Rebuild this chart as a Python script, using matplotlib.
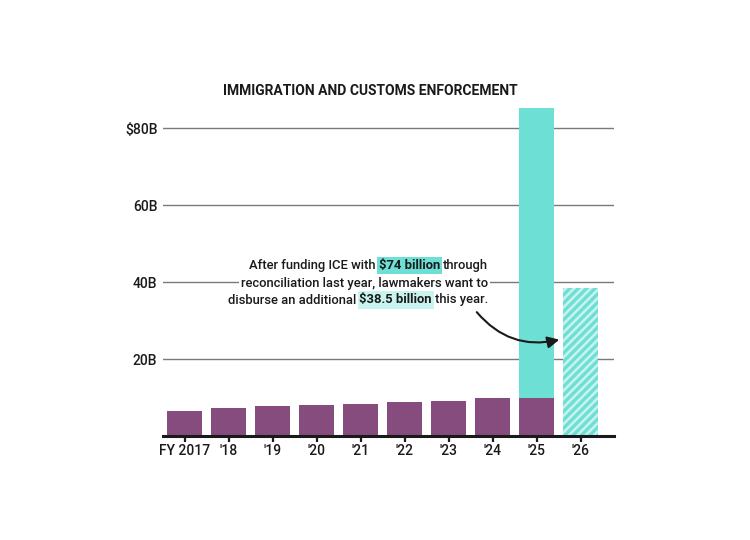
import matplotlib
matplotlib.use("Agg")
import matplotlib.pyplot as plt
from matplotlib.patches import FancyArrowPatch

# ---- data ----
years = ["FY 2017", "'18", "'19", "'20", "'21", "'22", "'23", "'24", "'25", "'26"]
base_budget = [6.5, 7.3, 7.8, 8.1, 8.3, 8.8, 9.1, 9.9, 9.9, 0]
reconciliation = [0, 0, 0, 0, 0, 0, 0, 0, 75.2, 0]
proposed = [0, 0, 0, 0, 0, 0, 0, 0, 0, 38.5]
yticks = [20, 40, 60, 80]
ytick_labels = ["20B", "40B", "60B", "$80B"]
title = "IMMIGRATION AND CUSTOMS ENFORCEMENT"

PURPLE = "#874c7e"
TEAL = "#6ddfd5"
LIGHT_TEAL = "#c8f3ef"
DARK = "#1a1a1a"
GRID = "#7a7a7a"

plt.rcParams['font.family'] = ['Roboto', 'DejaVu Sans']
plt.rcParams['hatch.linewidth'] = 2.4

W, H = 750, 540
fig = plt.figure(figsize=(7.5, 5.4), dpi=100)
ax = fig.add_axes([163 / W, 1 - 436 / H, (614 - 163) / W, (436 - 108) / H])

x = list(range(len(years)))
ax.bar(x, base_budget, width=0.8, color=PURPLE, zorder=3)
ax.bar(x, reconciliation, width=0.8, bottom=base_budget, color=TEAL, zorder=3)
ax.bar(x, proposed, width=0.8, color=LIGHT_TEAL, edgecolor=TEAL,
       hatch="////", linewidth=0, zorder=3)

ax.set_xlim(-0.49, 9.76)
ax.set_ylim(0, 85.2)

for s in ["top", "right", "left"]:
    ax.spines[s].set_visible(False)
ax.spines["bottom"].set_linewidth(2.2)
ax.spines["bottom"].set_color(DARK)
ax.spines["bottom"].set_zorder(4)

ax.set_yticks(yticks)
ax.set_yticklabels(ytick_labels)
ax.tick_params(axis="y", length=0, pad=4, labelsize=10, labelcolor=DARK)
ax.yaxis.grid(True, color=GRID, linewidth=1.0, zorder=0)
ax.set_axisbelow(True)

ax.set_xticks(x)
ax.set_xticklabels(years)
ax.tick_params(axis="x", length=4, width=1.6, color=DARK, pad=2,
               labelsize=10, labelcolor=DARK)
for lab in ax.get_xticklabels() + ax.get_yticklabels():
    lab.set_fontweight("medium")

fig.text(370 / W, 1 - 91 / H, title, ha="center", va="center",
         fontsize=10, fontweight="bold", color=DARK)

# ---- annotation with highlighted segments ----
renderer = fig.canvas.get_renderer()
fs = 9.4
lines = [
    [("through", False, None), ("$74 billion", True, TEAL), ("After funding ICE with", False, None)],
    [("reconciliation last year, lawmakers want to", False, None)],
    [("this year.", False, None), ("$38.5 billion", True, LIGHT_TEAL), ("disburse an additional", False, None)],
]
line_y = [266, 283, 300]
x_right = 488
tmp = fig.text(0, 0, "a a", fontsize=fs)
w1 = tmp.get_window_extent(renderer).width
tmp.set_text("aa")
w2 = tmp.get_window_extent(renderer).width
tmp.remove()
space = w1 - w2

for segs, yy in zip(lines, line_y):
    cur = x_right
    for txt, bold, bg in segs:
        t = fig.text(cur / W, 1 - yy / H, txt, ha="right", va="center",
                     fontsize=fs, color=DARK,
                     fontweight="bold" if bold else "medium", zorder=5)
        t.set_bbox(dict(facecolor=bg if bg else "white", edgecolor="none",
                        pad=1.5 if bg else 1.5))
        w = t.get_window_extent(renderer).width
        cur -= w + space

arrow = FancyArrowPatch((475 / W, 1 - 310 / H), (562 / W, 1 - 339 / H),
                        transform=fig.transFigure,
                        connectionstyle="arc3,rad=0.32",
                        arrowstyle="-|>,head_length=7,head_width=3.5",
                        color=DARK, linewidth=1.5, zorder=6)
fig.patches.append(arrow)

fig.savefig("out.png", dpi=100, facecolor="white")
